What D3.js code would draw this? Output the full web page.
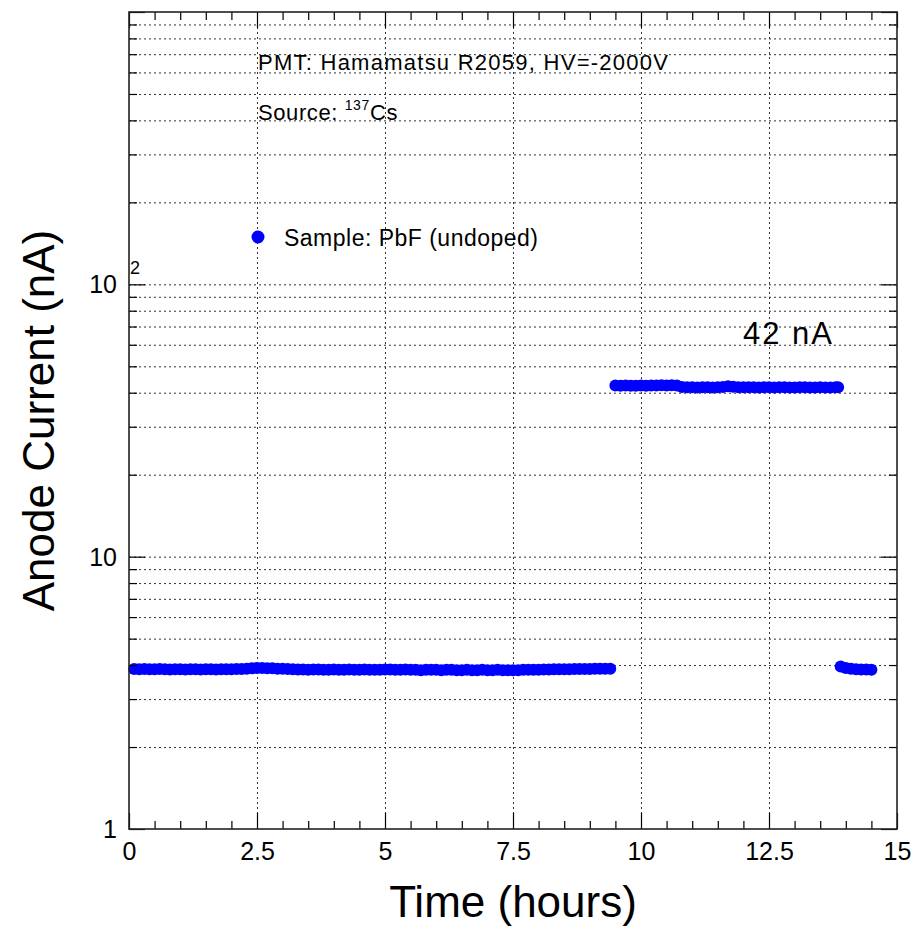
<!DOCTYPE html>
<html lang="en">
<head>
    <meta charset="UTF-8">
    <title>Anode Current vs Time</title>
    <script src="https://d3js.org/d3.v7.min.js"></script>
    <style>
        body { margin: 0; background: #fff; }
        text { font-family: "Liberation Sans", Arial, Helvetica, sans-serif; fill: #000; }
    </style>
</head>
<body>
    <div id="chart"></div>

    <script>
        // Measured PMT anode current (nA) vs time (hours)
        const timeHours = [
            0.1, 0.2, 0.3, 0.4, 0.5, 0.6, 0.7, 0.8, 0.9,
            1.0, 1.1, 1.2, 1.3, 1.4, 1.5, 1.6, 1.7, 1.8, 1.9,
            2.0, 2.1, 2.2, 2.3, 2.4, 2.5, 2.6, 2.7, 2.8, 2.9,
            3.0, 3.1, 3.2, 3.3, 3.4, 3.5, 3.6, 3.7, 3.8, 3.9,
            4.0, 4.1, 4.2, 4.3, 4.4, 4.5, 4.6, 4.7, 4.8, 4.9,
            5.0, 5.1, 5.2, 5.3, 5.4, 5.5, 5.6, 5.7, 5.8, 5.9,
            6.0, 6.1, 6.2, 6.3, 6.4, 6.5, 6.6, 6.7, 6.8, 6.9,
            7.0, 7.1, 7.2, 7.3, 7.4, 7.5, 7.6, 7.7, 7.8, 7.9,
            8.0, 8.1, 8.2, 8.3, 8.4, 8.5, 8.6, 8.7, 8.8, 8.9,
            9.0, 9.1, 9.2, 9.3, 9.4,
            9.5, 9.6, 9.7, 9.8, 9.9,
            10.0, 10.1, 10.2, 10.3, 10.4, 10.5, 10.6, 10.7, 10.8, 10.9,
            11.0, 11.1, 11.2, 11.3, 11.4, 11.5, 11.6, 11.7, 11.8, 11.9,
            12.0, 12.1, 12.2, 12.3, 12.4, 12.5, 12.6, 12.7, 12.8, 12.9,
            13.0, 13.1, 13.2, 13.3, 13.4, 13.5, 13.6, 13.7, 13.8, 13.85,
            13.9, 14.0, 14.1, 14.2, 14.3, 14.4, 14.5
        ];
        const anodeCurrent = [
            3.87, 3.86, 3.87, 3.86, 3.86, 3.87, 3.86, 3.85, 3.86,
            3.86, 3.85, 3.86, 3.86, 3.85, 3.86, 3.86, 3.85, 3.86, 3.86,
            3.86, 3.87, 3.87, 3.88, 3.89, 3.90, 3.90, 3.89, 3.89, 3.88,
            3.88, 3.87, 3.86, 3.85, 3.85, 3.84, 3.85, 3.85, 3.84, 3.84,
            3.85, 3.84, 3.84, 3.85, 3.84, 3.84, 3.85, 3.84, 3.84, 3.84,
            3.85, 3.85, 3.84, 3.84, 3.85, 3.84, 3.84, 3.83, 3.84, 3.84,
            3.84, 3.83, 3.84, 3.84, 3.83, 3.83, 3.84, 3.83, 3.83, 3.84,
            3.83, 3.83, 3.84, 3.83, 3.83, 3.83, 3.83, 3.84, 3.84, 3.84,
            3.84, 3.85, 3.85, 3.86, 3.86, 3.86, 3.86, 3.87, 3.87, 3.87,
            3.87, 3.88, 3.88, 3.88, 3.88,
            42.5, 42.4, 42.5, 42.4, 42.4,
            42.5, 42.4, 42.5, 42.5, 42.6, 42.5, 42.6, 42.5, 42.0, 41.9,
            41.9, 41.8, 41.9, 41.9, 41.8, 41.9, 42.0, 42.2, 42.1, 41.9,
            41.9, 41.9, 41.9, 41.8, 41.9, 41.9, 41.8, 41.9, 41.9, 41.8,
            41.8, 41.9, 41.9, 41.8, 41.8, 41.9, 41.8, 41.8, 41.9, 41.9,
            3.95, 3.90, 3.88, 3.86, 3.85, 3.85, 3.84
        ];

        const xMajorTicks = [0, 2.5, 5, 7.5, 10, 12.5, 15];
        const xTickLabels = ["0", "2.5", "5", "7.5", "10", "12.5", "15"];
        const xMinorTicks = [0.5, 1, 1.5, 2, 3, 3.5, 4, 4.5, 5.5, 6, 6.5, 7, 8, 8.5, 9, 9.5,
            10.5, 11, 11.5, 12, 13, 13.5, 14, 14.5];
        const yMajorTicks = [1, 10, 100, 1000];
        const yMinorTicks = [2, 3, 4, 5, 6, 7, 8, 9, 20, 30, 40, 50, 60, 70, 80, 90,
            200, 300, 400, 500, 600, 700, 800, 900];
        const yTickLabels = [["1", ""], ["10", ""], ["10", "2"]];

        const infoLines = ["PMT: Hamamatsu R2059, HV=-2000V"];
        const legendLabel = "Sample: PbF (undoped)";
        const annotation = "42 nA";

        const width = 916;
        const height = 927;
        const margin = { top: 12, right: 19, bottom: 98, left: 129 };
        const innerW = width - margin.left - margin.right;
        const innerH = height - margin.top - margin.bottom;

        const svg = d3.select("#chart")
            .append("svg")
            .attr("width", width)
            .attr("height", height);

        const g = svg.append("g")
            .attr("transform", `translate(${margin.left},${margin.top})`);

        const x = d3.scaleLinear().domain([0, 15]).range([0, innerW]);
        const y = d3.scaleLog().domain([1, 1000]).range([innerH, 0]);

        // grid lines
        const gridStyle = sel => {
            sel.select(".domain").remove();
            sel.selectAll(".tick line")
                .attr("stroke", "#333")
                .attr("stroke-width", 1)
                .attr("stroke-dasharray", "2,3");
        };
        g.append("g")
            .attr("transform", `translate(0,${innerH})`)
            .call(d3.axisBottom(x).tickValues(xMajorTicks.slice(1, -1)).tickSize(-innerH).tickFormat(""))
            .call(gridStyle);
        g.append("g")
            .call(d3.axisLeft(y).tickValues(yMajorTicks.slice(1, -1).concat(yMinorTicks)).tickSize(-innerW).tickFormat(""))
            .call(gridStyle);

        // data markers
        g.append("g")
            .selectAll("circle")
            .data(timeHours)
            .join("circle")
            .attr("cx", d => x(d))
            .attr("cy", (d, i) => y(anodeCurrent[i]))
            .attr("r", 6)
            .attr("fill", "#0000ff");

        // ticks on all four sides, pointing inward
        const tickStyle = sel => {
            sel.select(".domain").remove();
            sel.selectAll(".tick line").attr("stroke", "#000").attr("stroke-width", 1.2);
        };
        const bottomMajor = g.append("g")
            .attr("transform", `translate(0,${innerH})`)
            .call(d3.axisBottom(x).tickValues(xMajorTicks).tickSize(-16).tickPadding(0)
                .tickFormat((d, i) => xTickLabels[i]))
            .call(tickStyle);
        bottomMajor.selectAll(".tick text")
            .attr("y", 31)
            .attr("dy", 0)
            .attr("font-size", 25)
            .attr("font-family", "Liberation Sans, Arial, sans-serif");
        g.append("g")
            .attr("transform", `translate(0,${innerH})`)
            .call(d3.axisBottom(x).tickValues(xMinorTicks).tickSize(-8).tickFormat(""))
            .call(tickStyle);
        g.append("g")
            .call(d3.axisTop(x).tickValues(xMajorTicks).tickSize(-16).tickFormat(""))
            .call(tickStyle);
        g.append("g")
            .call(d3.axisTop(x).tickValues(xMinorTicks).tickSize(-8).tickFormat(""))
            .call(tickStyle);

        g.append("g")
            .call(d3.axisLeft(y).tickValues(yMajorTicks).tickSize(-16).tickFormat(""))
            .call(tickStyle);
        g.append("g")
            .call(d3.axisLeft(y).tickValues(yMinorTicks).tickSize(-8).tickFormat(""))
            .call(tickStyle);
        g.append("g")
            .attr("transform", `translate(${innerW},0)`)
            .call(d3.axisRight(y).tickValues(yMajorTicks).tickSize(-16).tickFormat(""))
            .call(tickStyle);
        g.append("g")
            .attr("transform", `translate(${innerW},0)`)
            .call(d3.axisRight(y).tickValues(yMinorTicks).tickSize(-8).tickFormat(""))
            .call(tickStyle);

        // y tick labels (ROOT style, 10^2 with detached exponent)
        const yLab = g.append("g")
            .selectAll("g")
            .data(yTickLabels)
            .join("g")
            .attr("transform", (d, i) => `translate(-12,${y(yMajorTicks[i])})`);
        yLab.append("text")
            .attr("text-anchor", "end")
            .attr("dy", "0.36em")
            .attr("font-size", 25)
            .text(d => d[0]);
        yLab.append("text")
            .attr("x", 13)
            .attr("y", -10)
            .attr("font-size", 18)
            .text(d => d[1]);

        // frame
        g.append("rect")
            .attr("width", innerW)
            .attr("height", innerH)
            .attr("fill", "none")
            .attr("stroke", "#222")
            .attr("stroke-width", 1.6);

        // axis titles
        svg.append("text")
            .attr("x", margin.left + innerW / 2)
            .attr("y", 917)
            .attr("text-anchor", "middle")
            .attr("font-size", 44)
            .text("Time (hours)");
        svg.append("text")
            .attr("transform", `translate(54,${margin.top + innerH / 2}) rotate(-90)`)
            .attr("text-anchor", "middle")
            .attr("font-size", 44)
            .text("Anode Current (nA)");

        // info text
        svg.append("text")
            .attr("x", 258)
            .attr("y", 70)
            .attr("font-size", 22)
            .attr("textLength", 410)
            .attr("lengthAdjust", "spacing")
            .text(infoLines[0]);
        const src = svg.append("text")
            .attr("x", 258)
            .attr("y", 120)
            .attr("font-size", 22)
            .attr("letter-spacing", 0.6);
        src.append("tspan").text("Source: ");
        src.append("tspan").attr("font-size", 14).attr("dy", -10).text("137");
        src.append("tspan").attr("dy", 10).text("Cs");

        // legend
        svg.append("circle")
            .attr("cx", 258)
            .attr("cy", 237)
            .attr("r", 6.5)
            .attr("fill", "#0000ff");
        svg.append("text")
            .attr("x", 284)
            .attr("y", 246)
            .attr("font-size", 23)
            .attr("textLength", 254)
            .attr("lengthAdjust", "spacing")
            .text(legendLabel);

        // level annotation
        svg.append("text")
            .attr("x", 743)
            .attr("y", 344)
            .attr("font-size", 31)
            .attr("textLength", 89)
            .attr("lengthAdjust", "spacing")
            .text(annotation);
    </script>
</body>
</html>
